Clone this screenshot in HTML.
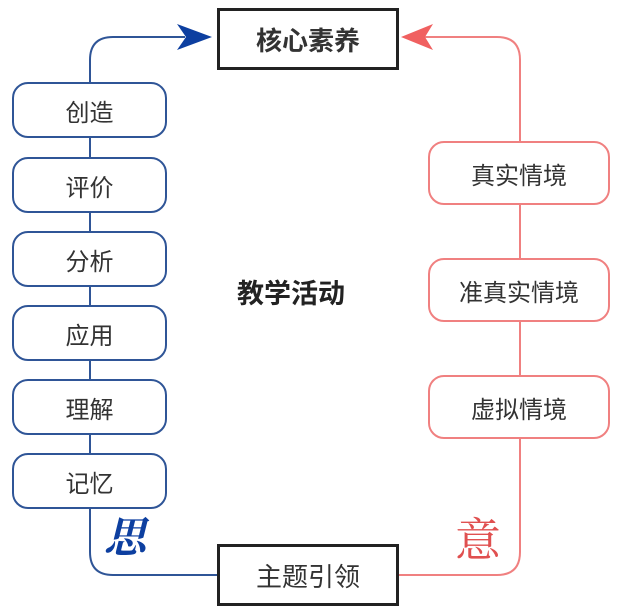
<!DOCTYPE html>
<html><head><meta charset="utf-8"><style>
body{margin:0;background:#fff;width:621px;height:609px;overflow:hidden;position:relative;font-family:"Liberation Sans","Noto Sans CJK SC",sans-serif}
.b{position:absolute;box-sizing:border-box;display:flex;align-items:center;justify-content:center;color:#333;background:#fff}
.l{left:12px;width:155px;height:56px;border:2px solid #2f5597;border-radius:16px;font-size:24px}
.r{left:428px;width:182px;height:64px;border:2px solid #f08080;border-radius:16px;font-size:24px}
.k{left:217px;width:182px;height:62px;border:3px solid #222;border-radius:0;font-size:26px}
</style></head><body>
<svg width="621" height="609" style="position:absolute;left:0;top:0">
<path d="M90 508 V552 Q90 575 113 575 H217" fill="none" stroke="#2f5597" stroke-width="2"/>
<path d="M90 82 V60 Q90 37 113 37 H185" fill="none" stroke="#2f5597" stroke-width="2"/>
<line x1="90" y1="138" x2="90" y2="453" stroke="#2f5597" stroke-width="2"/>
<polygon points="212,37 177,24 186,37 177,50" fill="#0d3fa0"/>
<path d="M398 575 H497 Q520 575 520 552 V60 Q520 37 497 37 H425" fill="none" stroke="#f08080" stroke-width="2"/>
<polygon points="401,37 433,24 425,37 433,50" fill="#f06060"/>
</svg>
<div class="b k" style="top:8px;font-weight:bold">核心素养</div>
<div class="b k" style="top:544px">主题引领</div>
<div class="b l" style="top:82px">创造</div>
<div class="b l" style="top:157px">评价</div>
<div class="b l" style="top:231px">分析</div>
<div class="b l" style="top:305px">应用</div>
<div class="b l" style="top:379px">理解</div>
<div class="b l" style="top:453px">记忆</div>
<div class="b r" style="top:141px">真实情境</div>
<div class="b r" style="top:258px">准真实情境</div>
<div class="b r" style="top:375px">虚拟情境</div>
<div style="position:absolute;left:237px;top:272px;font-size:27px;font-weight:bold;color:#222">教学活动</div>
<div style="position:absolute;left:104px;top:514px;font-size:42px;font-weight:bold;font-style:italic;color:#0d3fa0;font-family:'Noto Serif CJK SC',serif;line-height:1">思</div>
<div style="position:absolute;left:455px;top:514px;font-size:46px;color:#e05050;font-family:'Noto Serif CJK SC',serif;line-height:1">意</div>
</body></html>
